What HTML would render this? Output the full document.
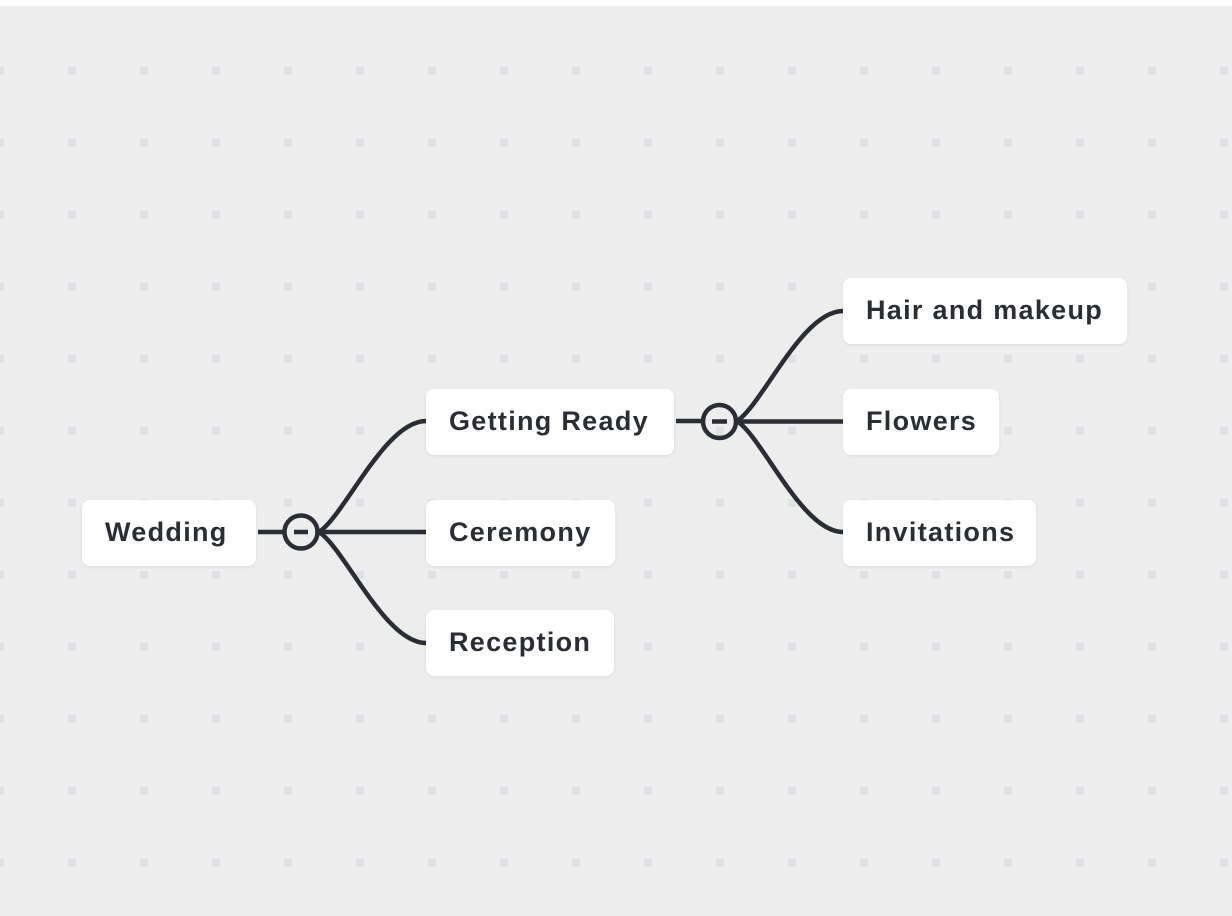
<!DOCTYPE html>
<html><head><meta charset="utf-8"><style>
html,body{margin:0;padding:0;}
body{width:1232px;height:916px;position:relative;background:#ededed;overflow:hidden;font-family:"Liberation Sans",sans-serif;}
.top{position:absolute;left:0;top:0;width:1232px;height:6px;background:#fff;}
.n{position:absolute;height:66px;background:#fff;border-radius:8px;box-shadow:0 1px 3px rgba(0,0,0,0.08);box-sizing:border-box;padding-left:23px;line-height:64px;font-size:27px;font-weight:bold;color:#2a2d34;letter-spacing:1.3px;white-space:nowrap;}
svg{position:absolute;left:0;top:0;}
</style></head><body>
<div class="top"></div>
<svg width="1232" height="916">
<defs><pattern id="d" x="-4" y="67" width="72" height="72" patternUnits="userSpaceOnUse"><rect x="0" y="0" width="8" height="8" fill="#e0e1e3"/></pattern></defs>
<rect x="0" y="6" width="1232" height="910" fill="url(#d)"/>
<g fill="none" stroke="#2a2d34" stroke-width="4.5" stroke-linecap="butt">
<line x1="258" y1="532" x2="284" y2="532"/>
<circle cx="301" cy="532" r="16.5"/>
<line x1="294" y1="532" x2="308" y2="532"/>
<line x1="319" y1="532" x2="426" y2="532"/>
<path d="M319 532 C345 515 385 421 426 421"/>
<path d="M319 532 C345 549 385 643 426 643"/>
<line x1="676" y1="421" x2="702" y2="421"/>
<circle cx="719.5" cy="421.5" r="16.5"/>
<line x1="712" y1="421.5" x2="727" y2="421.5"/>
<line x1="737" y1="421.5" x2="843" y2="421.5"/>
<path d="M737 421 C763 404 802 311 843 311"/>
<path d="M737 421 C763 438 802 532 843 532"/>
</g>
</svg>
<div class="n" style="left:82px;top:500px;width:174px;">Wedding</div>
<div class="n" style="left:426px;top:389px;width:248px;">Getting Ready</div>
<div class="n" style="left:426px;top:500px;width:189px;">Ceremony</div>
<div class="n" style="left:426px;top:610px;width:188px;">Reception</div>
<div class="n" style="left:843px;top:278px;width:284px;">Hair and makeup</div>
<div class="n" style="left:843px;top:389px;width:156px;">Flowers</div>
<div class="n" style="left:843px;top:500px;width:193px;">Invitations</div>
</body></html>
